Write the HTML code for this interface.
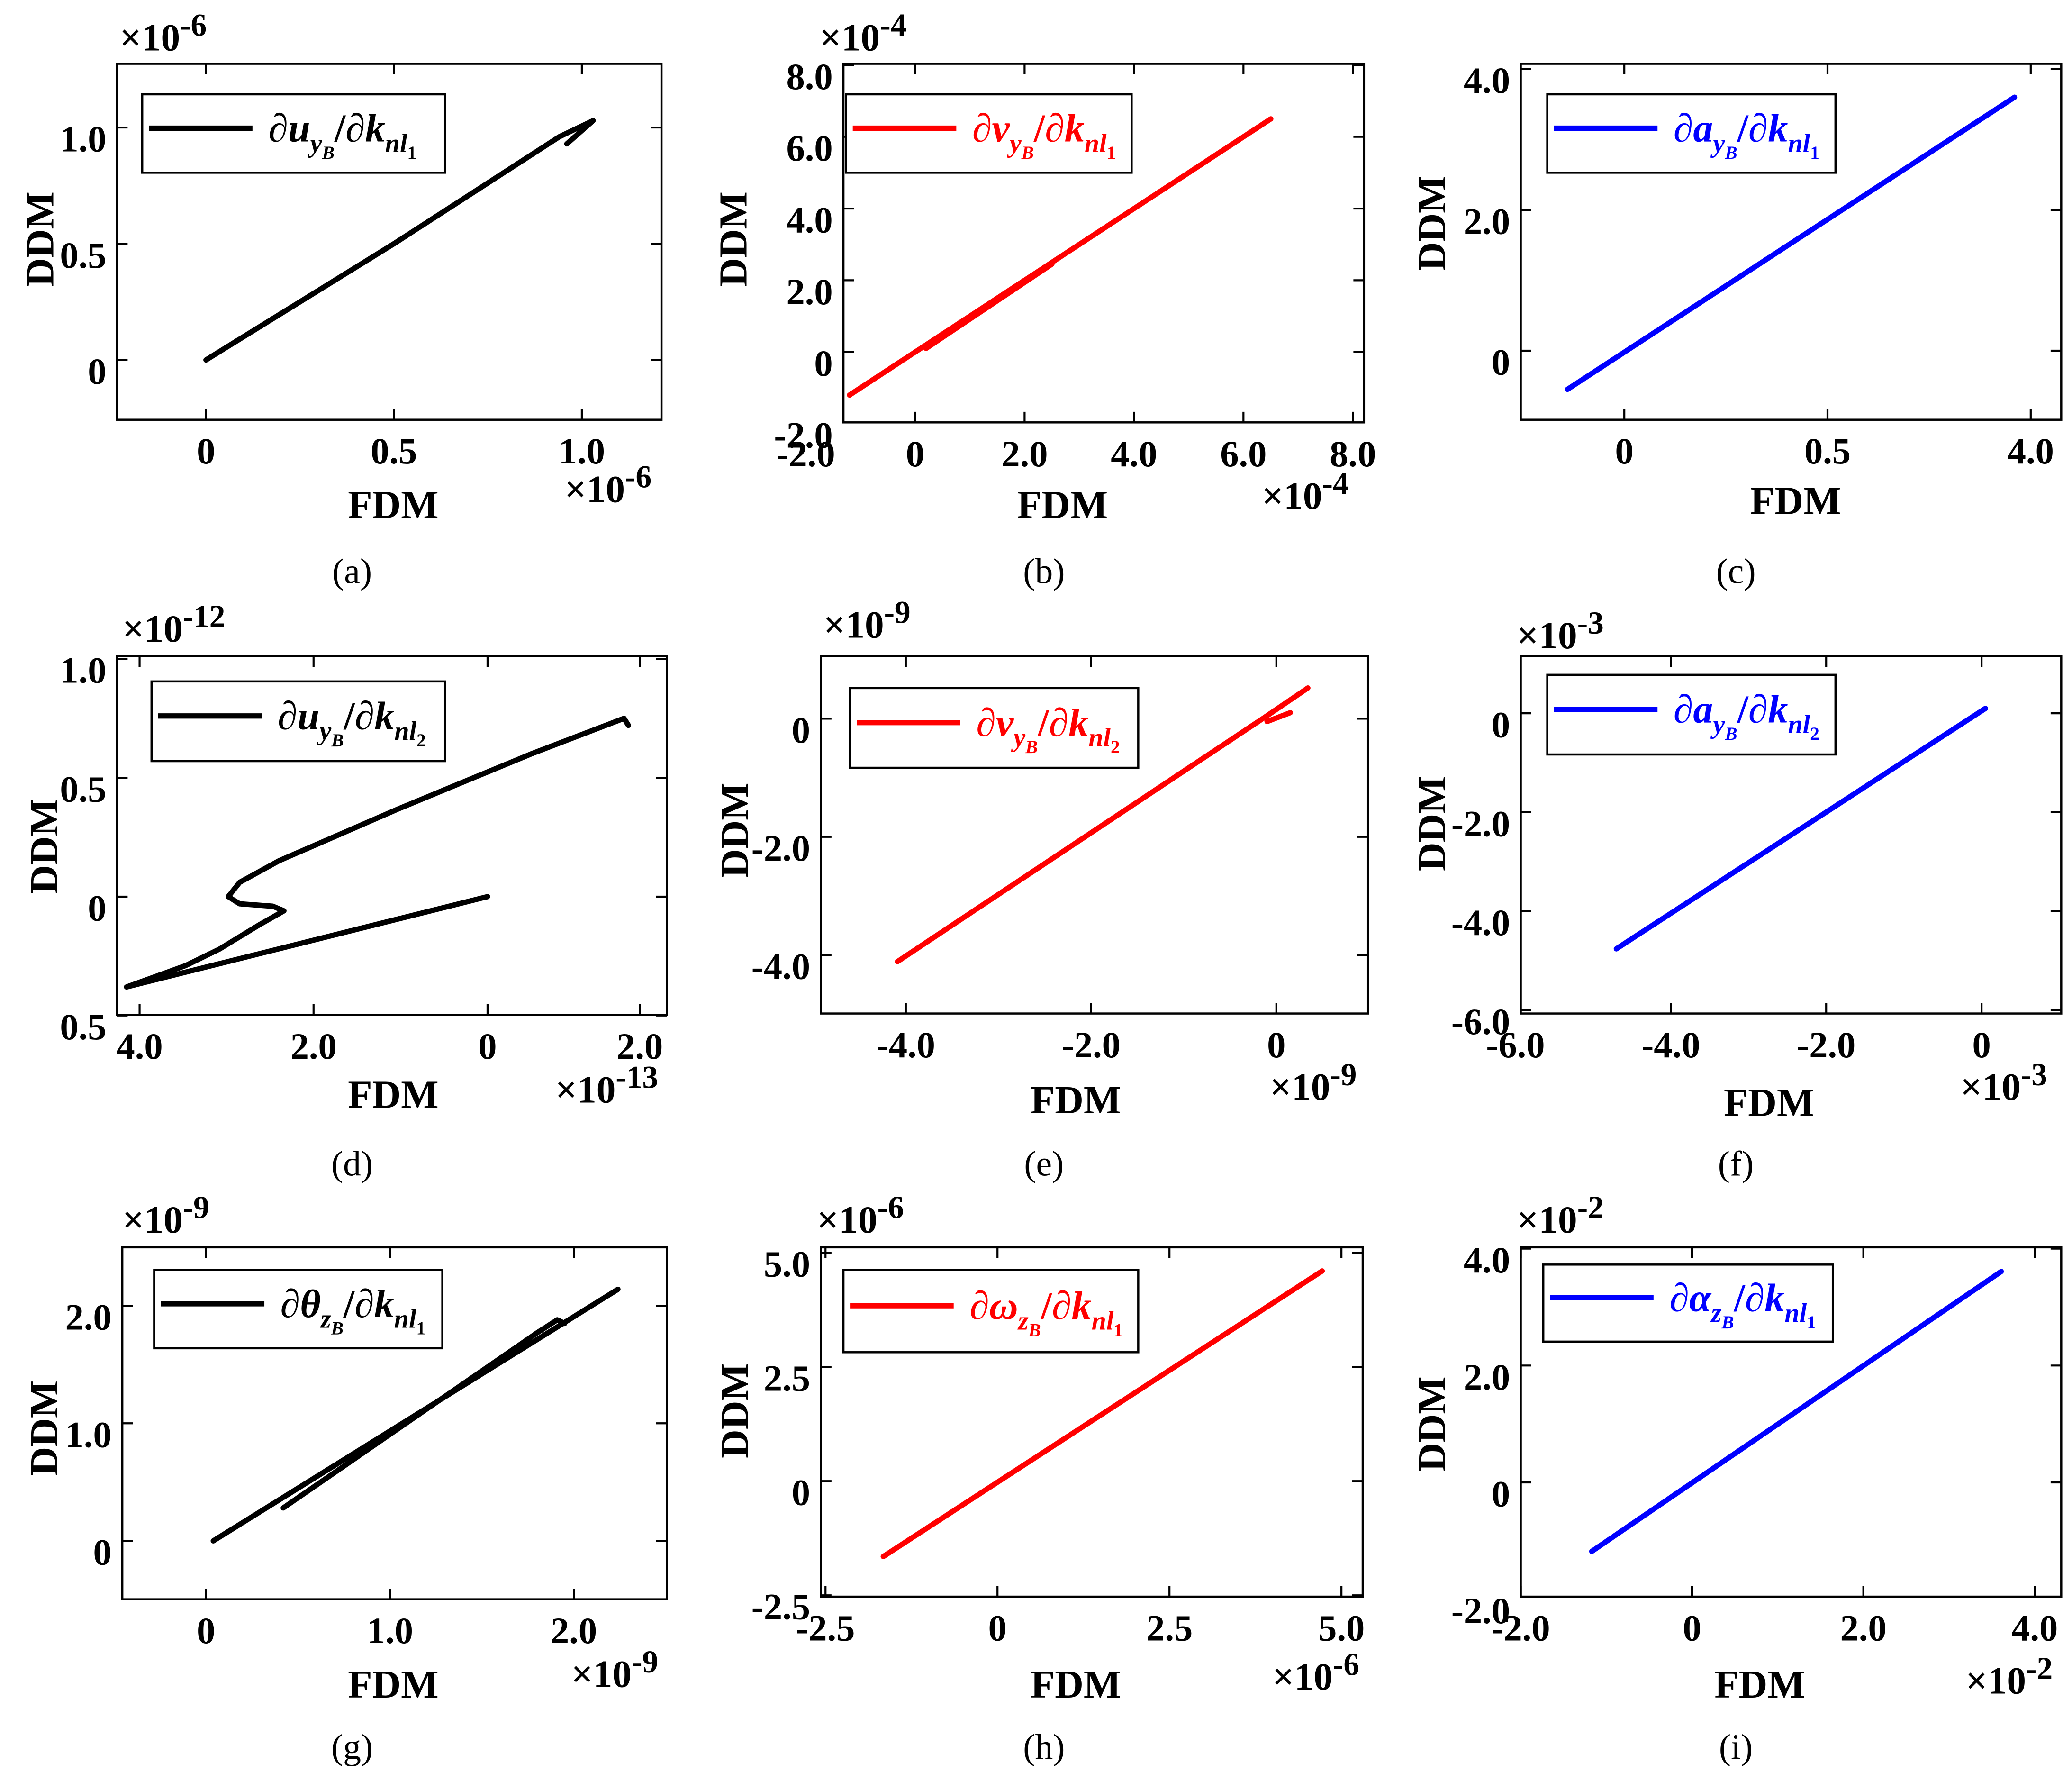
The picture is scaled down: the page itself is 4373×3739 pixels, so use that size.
<!DOCTYPE html>
<html><head><meta charset="utf-8"><style>
html,body{margin:0;padding:0;background:#fff;}
svg{display:block;font-family:"Liberation Serif",serif;}
</style></head><body>
<svg id="fig" width="4373" height="3739" viewBox="0 0 1560 1334" xmlns="http://www.w3.org/2000/svg"></svg>
<script>
// ---- data per panel (data units) ----
const aX1=[0,0.5,0.94,1.03,0.96]; const aY1=[0,0.5,0.96,1.03,0.93];
const bX1=[-1.2,6.5]; const bY1=[-1.2,6.5];
const bX2=[0.2,2.5]; const bY2=[0.1,2.45];
const cX1=[-0.14,0.96]; const cY1=[-0.55,3.6];
const dX1=[0,-4.15,-3.47,-3.08,-2.63,-2.34,-2.47,-2.85,-2.98,-2.85,-2.4,-1.02,0.5,1.57,1.62];
const dY1=[0,-0.38,-0.29,-0.22,-0.12,-0.06,-0.04,-0.03,0,0.06,0.15,0.37,0.6,0.75,0.72];
const eX1=[-4.09,-0.1,0.34]; const eY1=[-4.11,0.05,0.52];
const eX2=[-0.1,0.15]; const eY2=[-0.05,0.1];
const fX1=[-4.7,0.05]; const fY1=[-4.76,0.1];
const gX1=[0.04,2.24]; const gY1=[0,2.14];
const gX2=[0.42,1.8,1.91,1.95]; const gY2=[0.28,1.77,1.88,1.85];
const hX1=[-1.66,4.72]; const hY1=[-1.65,4.6];
const iX1=[-1.17,3.61]; const iY1=[-1.18,3.61];
// tick values & labels
const aXT=[0,0.5,1.0], aXL=["0","0.5","1.0"], aYT=[0,0.5,1.0], aYL=["0","0.5","1.0"];
const bXT=[-2,0,2,4,6,8], bXL=["-2.0","0","2.0","4.0","6.0","8.0"], bYT=[-2,0,2,4,6,8], bYL=["-2.0","0","2.0","4.0","6.0","8.0"];
const cXT=[0,0.5,1.0], cXL=["0","0.5","4.0"], cYT=[0,2,4], cYL=["0","2.0","4.0"];
const dXT=[-4,-2,0,1.75], dXL=["4.0","2.0","0","2.0"], dYT=[-0.5,0,0.5,1.0], dYL=["0.5","0","0.5","1.0"];
const eXT=[-4,-2,0], eXL=["-4.0","-2.0","0"], eYT=[-4,-2,0], eYL=["-4.0","-2.0","0"];
const fXT=[-6,-4,-2,0], fXL=["-6.0","-4.0","-2.0","0"], fYT=[-6,-4,-2,0], fYL=["-6.0","-4.0","-2.0","0"];
const gXT=[0,1,2], gXL=["0","1.0","2.0"], gYT=[0,1,2], gYL=["0","1.0","2.0"];
const hXT=[-2.5,0,2.5,5], hXL=["-2.5","0","2.5","5.0"], hYT=[-2.5,0,2.5,5], hYL=["-2.5","0","2.5","5.0"];
const iXT=[-2,0,2,4], iXL=["-2.0","0","2.0","4.0"], iYT=[-2,0,2,4], iYL=["-2.0","0","2.0","4.0"];

const NS="http://www.w3.org/2000/svg";
const svg=document.getElementById('fig');
function mk(tag,attrs,parent){const e=document.createElementNS(NS,tag);for(const k in attrs)e.setAttribute(k,attrs[k]);(parent||svg).appendChild(e);return e;}

const panels=[
 {id:'a',box:[88,48,498,316],xs:[0,155,1,438],ys:[0,271,1,96],series:[[aX1,aY1]],col:'#000',xt:aXT,xl:aXL,yt:aYT,yl:aYL,leg:[107,71,335,130],v:'u',sub:'y',n:'1',top:[90,38,'-6'],bot:[425,378,'-6'],fdm:[296,390],ddm:[30,180],lab:[265,430]},
 {id:'b',box:[635,48,1027,318],xs:[0,689,2,771.4],ys:[0,265,2,211],series:[[bX1,bY1],[bX2,bY2]],col:'#f00',xt:bXT,xl:bXL,yt:bYT,yl:bYL,leg:[637,71,852,130],v:'v',sub:'y',n:'1',top:[617,38,'-4'],bot:[950,383,'-4'],fdm:[800,390],ddm:[552,180],lab:[786,430]},
 {id:'c',box:[1145,48,1552,316],xs:[0,1223,0.5,1376],ys:[0,264,2,158],series:[[cX1,cY1]],col:'#00f',xt:cXT,xl:cXL,yt:cYT,yl:cYL,leg:[1165,71,1382,130],v:'a',sub:'y',n:'1',top:null,bot:null,fdm:[1352,387],ddm:[1078,168],lab:[1307,430]},
 {id:'d',box:[88,494,502,764],xs:[0,367,-4,105],ys:[0,675,1,496],series:[[dX1,dY1]],col:'#000',xt:dXT,xl:dXL,yt:dYT,yl:dYL,leg:[114,513,335,573],v:'u',sub:'y',n:'2',top:[92,483,'-12'],bot:[418,830,'-13'],fdm:[296,834],ddm:[33,637],lab:[265,876]},
 {id:'e',box:[618,494,1030,763],xs:[0,961,-4,682],ys:[0,541,-4,719],series:[[eX1,eY1],[eX2,eY2]],col:'#f00',xt:eXT,xl:eXL,yt:eYT,yl:eYL,leg:[640,518,857,578],v:'v',sub:'y',n:'2',top:[620,480,'-9'],bot:[956,828,'-9'],fdm:[810,838],ddm:[553,625],lab:[786,876]},
 {id:'f',box:[1145,494,1552,763],xs:[0,1492,-4,1258],ys:[0,537,-4,686],series:[[fX1,fY1]],col:'#00f',xt:fXT,xl:fXL,yt:fYT,yl:fYL,leg:[1165,508,1382,568],v:'a',sub:'y',n:'2',top:[1142,488,'-3'],bot:[1476,828,'-3'],fdm:[1332,840],ddm:[1078,620],lab:[1307,876]},
 {id:'g',box:[92,939,502,1204],xs:[0,155,2,432],ys:[0,1160,2,983],series:[[gX1,gY1],[gX2,gY2]],col:'#000',xt:gXT,xl:gXL,yt:gYT,yl:gYL,leg:[116,956,333,1015],v:'θ',sub:'z',n:'1',top:[92,928,'-9'],bot:[430,1270,'-9'],fdm:[296,1278],ddm:[33,1075],lab:[265,1315]},
 {id:'h',box:[618,939,1026,1202],xs:[0,751,5,1010],ys:[0,1115,5,943],series:[[hX1,hY1]],col:'#f00',xt:hXT,xl:hXL,yt:hYT,yl:hYL,leg:[635,956,857,1018],v:'ω',sub:'z',n:'1',top:[615,928,'-6'],bot:[958,1272,'-6'],fdm:[810,1278],ddm:[553,1062],lab:[786,1315]},
 {id:'i',box:[1145,939,1552,1202],xs:[0,1274,4,1532],ys:[0,1116,2,1028],series:[[iX1,iY1]],col:'#00f',xt:iXT,xl:iXL,yt:iYT,yl:iYL,leg:[1162,952,1380,1010],v:'α',sub:'z',n:'1',top:[1142,928,'-2'],bot:[1480,1275,'-2'],fdm:[1325,1278],ddm:[1078,1072],lab:[1307,1315]}
];

function mult(g,x,y,exp,name){
  const t=mk('text',{x:x,y:y,'font-size':29,'font-weight':'bold'},g);
  
  
  t.textContent='×10';
  const s=mk('tspan',{dy:-11,'font-size':24},t); s.textContent=exp;
}

panels.forEach(p=>{
  const g=mk('g',{});
  
  
  const [x0,y0,x1,y1]=p.box;
  const sx=v=>p.xs[1]+(v-p.xs[0])*(p.xs[3]-p.xs[1])/(p.xs[2]-p.xs[0]);
  const sy=v=>p.ys[1]+(v-p.ys[0])*(p.ys[3]-p.ys[1])/(p.ys[2]-p.ys[0]);
  const frame=mk('rect',{x:x0,y:y0,width:x1-x0,height:y1-y0,fill:'none',stroke:'#000','stroke-width':1.6},g);
  
  
  p.xt.forEach((v,i)=>{
    const px=sx(v);
    if(px>=x0-0.5&&px<=x1+0.5){
      mk('line',{x1:px,y1:y1,x2:px,y2:y1-8,stroke:'#000','stroke-width':1.5},g);
      mk('line',{x1:px,y1:y0,x2:px,y2:y0+8,stroke:'#000','stroke-width':1.5},g);
    }
    const t=mk('text',{x:px,y:y1+33,'text-anchor':'middle','font-size':28,'font-weight':'bold'},g);
    
    
    t.textContent=p.xl[i];
  });
  p.yt.forEach((v,i)=>{
    const py=sy(v);
    if(py>=y0-0.5&&py<=y1+0.5){
      mk('line',{x1:x0,y1:py,x2:x0+8,y2:py,stroke:'#000','stroke-width':1.5},g);
      mk('line',{x1:x1,y1:py,x2:x1-8,y2:py,stroke:'#000','stroke-width':1.5},g);
    }
    const t=mk('text',{x:x0-8,y:py+18,'text-anchor':'end','font-size':28,'font-weight':'bold'},g);
    
    
    t.textContent=p.yl[i];
  });
  p.series.forEach((s,k)=>{
    const d=s[0].map((v,i)=>(i?'L':'M')+sx(v).toFixed(1)+' '+sy(s[1][i]).toFixed(1)).join(' ');
    const path=mk('path',{d:d,fill:'none',stroke:p.col,'stroke-width':4,'stroke-linejoin':'round','stroke-linecap':'round'},g);
    
    
  });
  const [lx0,ly0,lx1,ly1]=p.leg;
  const lg=mk('g',{},g);
  
  
  mk('rect',{x:lx0,y:ly0,width:lx1-lx0,height:ly1-ly0,fill:'#fff',stroke:'#000','stroke-width':1.6},lg);
  const ly=(ly0+ly1)/2-4;
  mk('line',{x1:lx0+5,y1:ly,x2:lx0+83,y2:ly,stroke:p.col,'stroke-width':4},lg);
  const lt=mk('text',{x:lx0+95,y:ly+10,fill:p.col,'font-size':30,'font-weight':'bold'},lg);
  
  
  const ts=(txt,attrs)=>{const s=mk('tspan',attrs||{},lt);s.textContent=txt;return s;};
  ts('∂',{'font-style':'normal'});
  ts(p.v,{'font-style':'italic'});
  ts(p.sub,{'font-style':'italic','font-size':20,dy:8});
  ts('B',{'font-style':'italic','font-size':14,dy:5});
  ts('/∂',{'font-style':'normal','font-size':30,dy:-13});
  ts('k',{'font-style':'italic'});
  ts('nl',{'font-style':'italic','font-size':20,dy:8});
  ts(p.n,{'font-style':'normal','font-size':14,dy:5});
  if(p.top) mult(g,p.top[0],p.top[1],p.top[2],'y-exponent');
  if(p.bot) mult(g,p.bot[0],p.bot[1],p.bot[2],'x-exponent');
  const fx=mk('text',{x:p.fdm[0],y:p.fdm[1],'text-anchor':'middle','font-size':30,'font-weight':'bold'},g);
  
  
  fx.textContent='FDM';
  const dy=mk('text',{x:0,y:0,transform:'translate('+(p.ddm[0]+10)+','+p.ddm[1]+') rotate(-90)','text-anchor':'middle','font-size':30,'font-weight':'bold'},g);
  
  
  dy.textContent='DDM';
  const sl=mk('text',{x:p.lab[0],y:p.lab[1]+9,'text-anchor':'middle','font-size':27},g);
  
  
  sl.textContent='('+p.id+')';
});
</script>
</body></html>
